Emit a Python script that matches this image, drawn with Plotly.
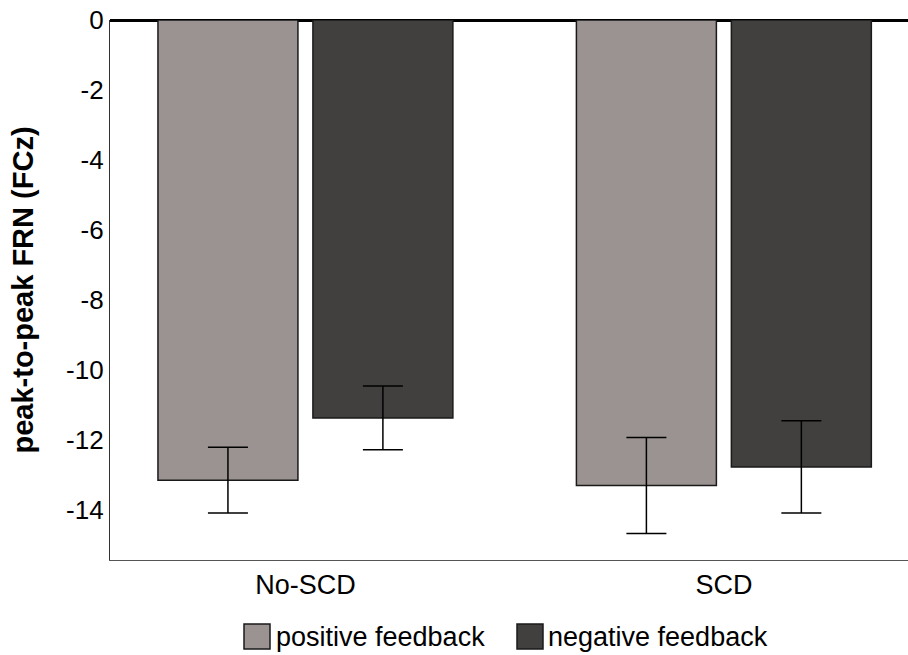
import plotly.graph_objects as go

categories = ["No-SCD", "SCD"]
series_names = ["positive feedback", "negative feedback"]
positive_vals = [-13.15, -13.30]
positive_err = [0.94, 1.37]
negative_vals = [-11.37, -12.77]
negative_err = [0.91, 1.32]
y_ticks = [0, -2, -4, -6, -8, -10, -12, -14]

colors = ["#9b9391", "#42403e"]
FONT = "Liberation Sans, Arial, sans-serif"

fig = go.Figure()
for name, vals, errs, col, off in [
    (series_names[0], positive_vals, positive_err, colors[0], -0.3524),
    (series_names[1], negative_vals, negative_err, colors[1], 0.0179),
]:
    fig.add_trace(go.Bar(
        x=[0, 1], y=vals, name=name, width=0.3345, offset=off,
        marker=dict(color=col, line=dict(color="#1a1a1a", width=1.5)),
        error_y=dict(type="data", array=errs, visible=True, color="#000000",
                     thickness=1.5, width=20),
        showlegend=False,
    ))

fig.update_layout(
    width=908, height=655,
    margin=dict(l=110, r=0, t=20, b=95),
    plot_bgcolor="white", paper_bgcolor="white",
    barmode="overlay",
    font=dict(family=FONT, color="#000000"),
    xaxis=dict(
        range=[-0.467, 1.44], tickmode="array", tickvals=[0, 1], ticktext=categories,
        showline=True, linecolor="#555555", linewidth=1.2, showgrid=False,
        zeroline=False, ticks="", tickfont=dict(size=27, family=FONT),
    ),
    yaxis=dict(
        range=[-15.43, 0], tickmode="array", tickvals=y_ticks,
        ticktext=[str(v) for v in y_ticks], ticklabeloverflow="allow",
        showline=True, linecolor="#333333", linewidth=1.2, showgrid=False,
        zeroline=True, zerolinecolor="#000000", zerolinewidth=3,
        ticks="", tickfont=dict(size=26, family=FONT),
        title=dict(text="<b>peak-to-peak FRN (FCz)</b>", font=dict(size=29, family=FONT), standoff=23),
    ),
)

# legend drawn manually (paper coords relative to plot area 110..908 x 20..560)
leg = [(244, 270, 274, series_names[0], colors[0]), (517, 543, 546, series_names[1], colors[1])]
for x0, x1, tx, name, col in leg:
    fig.add_shape(type="rect", xref="paper", yref="paper",
                  x0=(x0 - 110) / 798, x1=(x1 - 110) / 798,
                  y0=(560 - 649) / 540, y1=(560 - 624) / 540,
                  fillcolor=col, line=dict(color="#1a1a1a", width=1.5))
    fig.add_annotation(xref="paper", yref="paper", x=(tx - 110) / 798, y=(560 - 637) / 540,
                       text=name, showarrow=False, xanchor="left", yanchor="middle",
                       font=dict(size=27, family=FONT, color="#000000"))

fig.write_html("out.html", config={"displayModeBar": False},
               post_script="document.body.style.margin='0';")
